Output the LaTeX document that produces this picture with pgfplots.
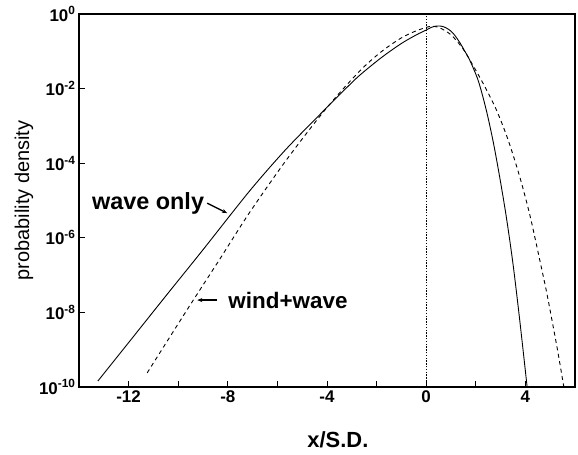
\documentclass[border=0pt]{standalone}
\usepackage{pgfplots}
\pgfplotsset{compat=1.18}
\usepackage{fontspec}
\setmainfont{Liberation Sans}
\usetikzlibrary{arrows.meta}

\begin{document}
\begin{tikzpicture}
\begin{axis}[
name=ax,
scale only axis,
width=496bp, height=373bp,
xmin=-14, xmax=6,
ymode=log, ymin=1e-10, ymax=1,
axis line style={line width=1.3bp},
tick style={line width=1bp, black},
tick align=inside,
major tick length=6bp,
minor tick length=6bp,
xtick={-12,-8,-4,0,4},
xticklabels={-12,-8,-4,0,4},
minor xtick={-10,-6,-2,2},
ytick={1e-10,1e-8,1e-6,1e-4,1e-2,1},
yticklabels={10\textsuperscript{-10},10\textsuperscript{-8},10\textsuperscript{-6},10\textsuperscript{-4},10\textsuperscript{-2},10\textsuperscript{0}},
minor ytick={},
xtick pos=bottom, ytick pos=left,
tick label style={font=\fontsize{17}{19}\selectfont\bfseries},
xlabel={x/S.D.},
ylabel={probability density},
xlabel style={font=\fontsize{22}{25}\selectfont\bfseries, at={(axis description cs:0.522,-0.142)}, anchor=center},
ylabel style={font=\fontsize{20}{23}\selectfont, at={(axis description cs:-0.111,0.5)}, anchor=center},
clip=false,
]
% wave only
\addplot[black, line width=0.9bp, smooth, tension=0.5] coordinates {
(-13.24,1.445e-10) (-12.0,1.549e-9) (-10.5,2.754e-8) (-9.0,4.786e-7) (-7.14,1.738e-5)
(-5.7,2.188e-4) (-4.31,1.950e-3) (-3.0,1.445e-2) (-2.5,2.884e-2) (-1.75,7.244e-2)
(-1.0,0.1622) (-0.4,0.2754) (0.0,0.3715) (0.2,0.4365) (0.4,0.4732) (0.6,0.4732)
(0.8,0.4266) (1.0,0.3467) (1.15,0.2692) (1.35,0.1738) (1.55,0.1023) (1.75,5.888e-2) (2.1,1.622e-2)
(2.42,2.692e-3) (2.7,3.802e-4) (2.96,4.365e-5) (3.23,3.631e-6) (3.5,1.995e-7)
(3.77,6.310e-9) (4.07,1.0e-10)
};
% wind+wave
\addplot[black, line width=0.9bp, dash pattern=on 4bp off 3.5bp, smooth, tension=0.5] coordinates {
(-11.25,2.399e-10) (-10.3,2.399e-9) (-9.43,1.950e-8) (-8.35,2.512e-7) (-7.14,4.571e-6)
(-5.7,1.072e-4) (-4.31,1.738e-3) (-3.38,9.333e-3) (-2.5,3.890e-2) (-1.75,0.1047)
(-1.0,0.2291) (-0.4,0.3548) (0.1,0.4571) (0.3,0.4677) (0.5,0.4365) (0.8,0.3467)
(1.08,0.2455) (1.48,0.1175) (1.88,4.266e-2) (2.35,1.175e-2) (2.83,2.692e-3)
(3.3,4.266e-4) (3.77,4.365e-5) (4.18,4.074e-6) (4.58,2.512e-7) (4.85,3.631e-8)
(5.12,4.169e-9) (5.32,7.943e-10) (5.55,1.0e-10)
};
% zero line
\addplot[black, line width=1.1bp, dash pattern=on 1.5bp off 1.3bp] coordinates {(0,1e-10) (0,1)};

\node[anchor=east, inner sep=0pt, font=\fontsize{23.5}{27}\selectfont\bfseries] at (axis cs:-8.95,8.5e-6) {wave only};
\draw[-{Stealth[length=5bp,width=4bp]}, line width=1.3bp] (axis cs:-8.83,8.5e-6) -- (axis cs:-8.03,4.6e-6);
\node[anchor=west, inner sep=0pt, font=\fontsize{22.5}{26}\selectfont\bfseries] at (axis cs:-7.98,2.14e-8) {wind+wave};
\draw[-{Stealth[length=5bp,width=4bp]}, line width=1.3bp] (axis cs:-8.42,2.14e-8) -- (axis cs:-9.23,2.14e-8);
\end{axis}
\pgfresetboundingbox
\path ([shift={(-79bp,-68bp)}]ax.south west) rectangle ([shift={(3bp,14bp)}]ax.north east);
\end{tikzpicture}
\end{document}
